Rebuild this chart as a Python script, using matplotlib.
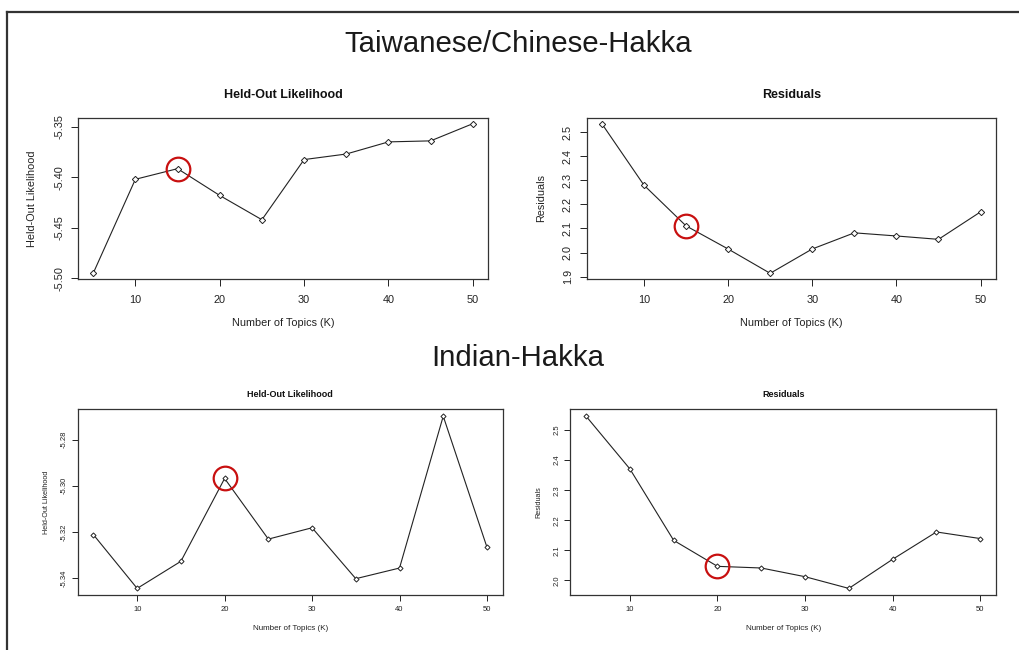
import matplotlib
matplotlib.use("Agg")
import matplotlib.pyplot as plt
from matplotlib.lines import Line2D

plt.rcParams['font.family'] = ['Liberation Sans', 'DejaVu Sans']

# Number of topics evaluated
topics = [5, 10, 15, 20, 25, 30, 35, 40, 45, 50]
x_ticks = [10, 20, 30, 40, 50]

# Taiwanese/Chinese-Hakka corpus
tw_heldout = [-5.495, -5.402, -5.3915, -5.418, -5.442, -5.3825, -5.377, -5.365, -5.364, -5.347]
tw_residuals = [2.535, 2.280, 2.111, 2.015, 1.914, 2.015, 2.082, 2.069, 2.055, 2.169]
tw_heldout_ticks = [-5.50, -5.45, -5.40, -5.35]
tw_residual_ticks = [1.9, 2.0, 2.1, 2.2, 2.3, 2.4, 2.5]
tw_chosen_k = 15

# Indian-Hakka corpus
in_heldout = [-5.3211, -5.3443, -5.3326, -5.2968, -5.3230, -5.3181, -5.3401, -5.3355, -5.2699, -5.3265]
in_residuals = [2.5465, 2.371, 2.133, 2.0465, 2.041, 2.012, 1.973, 2.070, 2.161, 2.139]
in_heldout_ticks = [-5.34, -5.32, -5.30, -5.28]
in_residual_ticks = [2.0, 2.1, 2.2, 2.3, 2.4, 2.5]
in_chosen_k = 20

W, H = 1020, 650
fig = plt.figure(figsize=(W / 100, H / 100), dpi=100)
fig.patch.set_facecolor('white')


def px_axes(x0, y0, x1, y1):
    return fig.add_axes([x0 / W, 1 - y1 / H, (x1 - x0) / W, (y1 - y0) / H])


def panel(ax, values, yticks, ylabel, title, chosen_k, small=False):
    ink = '#222222'
    ax.plot(topics, values, color=ink, lw=0.8, marker='D', ms=3.2 if not small else 2.6,
            mfc='white', mec=ink, mew=0.7, zorder=2)
    i = topics.index(chosen_k)
    ax.plot([topics[i]], [values[i]], marker='o', ms=17, mfc='none', mec='#c81010',
            mew=1.6, ls='none', zorder=3)
    ax.margins(x=0.04, y=0.04)
    ax.set_xticks(x_ticks)
    ax.set_yticks(yticks)
    ax.set_yticklabels([f"{t:.2f}" if abs(t) > 5 else f"{t:.1f}" for t in yticks],
                       rotation=90, va='center')
    fs_tick = 5.5 if small else 7.8
    fs_lab = 5.8 if small else 7.8
    fs_title = 6.5 if small else 9
    ax.tick_params(axis='both', labelsize=fs_tick, colors=ink, length=4 if small else 5,
                   width=0.7, pad=4 if small else 6)
    ax.tick_params(axis='y', pad=3 if small else 5)
    for s in ax.spines.values():
        s.set_color('#333333')
        s.set_linewidth(0.9)
    ax.set_xlabel('Number of Topics (K)', fontsize=fs_lab, color=ink,
                  labelpad=8 if small else 10)
    ax.set_ylabel(ylabel, fontsize=fs_lab - (0.6 if small else 0), color=ink,
                  labelpad=8 if small else 12)
    ax.set_title(title, fontsize=fs_title, fontweight='bold', color='#111111',
                 pad=9 if small else 14)


ax1 = px_axes(78, 117.7, 488, 279.3)
panel(ax1, tw_heldout, tw_heldout_ticks, 'Held-Out Likelihood', 'Held-Out Likelihood', tw_chosen_k)
ax2 = px_axes(586.7, 117.7, 995.7, 279.3)
panel(ax2, tw_residuals, tw_residual_ticks, 'Residuals', 'Residuals', tw_chosen_k)
ax3 = px_axes(77.7, 409.3, 502.7, 595.3)
panel(ax3, in_heldout, in_heldout_ticks, 'Held-Out Likelihood', 'Held-Out Likelihood', in_chosen_k, small=True)
ax4 = px_axes(570.3, 409.3, 996, 595.3)
panel(ax4, in_residuals, in_residual_ticks, 'Residuals', 'Residuals', in_chosen_k, small=True)

fig.text(518 / W, 1 - 44 / H, 'Taiwanese/Chinese-Hakka', ha='center', va='center',
         fontsize=21.2, color='#1a1a1a')
fig.text(518 / W, 1 - 358 / H, 'Indian-Hakka', ha='center', va='center',
         fontsize=21.2, color='#1a1a1a')

# Outer frame (top and left edges)
fig.add_artist(Line2D([7.5 / W, 1], [1 - 12 / H, 1 - 12 / H], transform=fig.transFigure,
                      color='#333333', lw=1.6))
fig.add_artist(Line2D([7.5 / W, 7.5 / W], [1 - 12 / H, 0], transform=fig.transFigure,
                      color='#333333', lw=1.6))

fig.savefig('out.png', dpi=100, facecolor='white')
